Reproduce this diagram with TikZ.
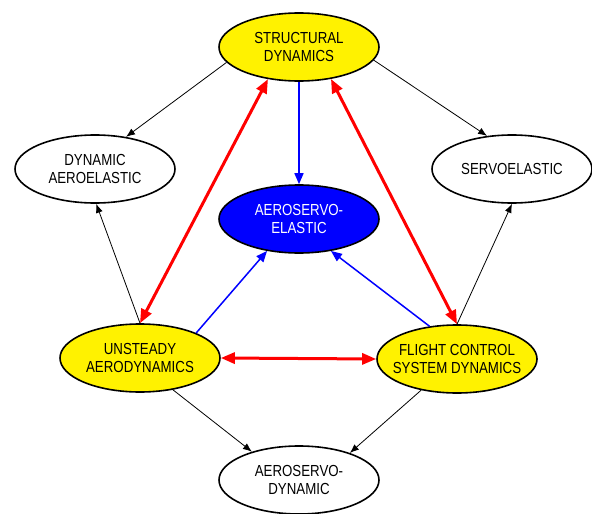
\documentclass[tikz,border=0pt]{standalone}
\usepackage{fontspec}
\setmainfont{Liberation Sans}[FakeStretch=0.83]
\usetikzlibrary{shapes.geometric,positioning,arrows.meta}
\tikzset{
>={Stealth},
every node/.style={font=\fontsize{16}{18.5}\selectfont},
}

\begin{document}
\begin{tikzpicture}
    [on grid,
    block/.style={ellipse, draw, line width=1.6pt, minimum width=160pt, minimum height=68pt,
        align=center, inner xsep=-14pt, inner ysep=-4pt},
    yblock/.style={block, fill=yellow},
    bblock/.style={block, fill=blue, text=white},
    wblock/.style={block, fill=white},
    link/.style={->, line width=0.8pt, >={Latex[length=9pt,width=7pt]}},
    blink/.style={->, blue, line width=1.5pt, >={Triangle[length=11pt,width=9pt]}},
    rlink/.style={<->, red, line width=3pt, >={Triangle[length=14pt,width=11pt]}}
    ]
    \useasboundingbox (0,0) rectangle (592pt,-514pt);

    \node [yblock] (sd) at (299pt,-47pt) {STRUCTURAL\\DYNAMICS};

    \node [bblock] (ae) [below=172pt of sd] {AEROSERVO-\\ELASTIC};

    \node [yblock] (ua) [below left=139pt and 159pt of ae] {UNSTEADY\\AERODYNAMICS};

    \node [yblock] (fc) [below right=140pt and 158pt of ae] {FLIGHT CONTROL\\SYSTEM DYNAMICS};

    \node [wblock] (ad) [below=261pt of ae] {AEROSERVO-\\DYNAMIC};

    \node [wblock] (da) [above left=189pt and 45pt of ua] {DYNAMIC\\AEROELASTIC};

    \node [wblock] (se) [above right=190pt and 55pt of fc] {SERVOELASTIC};

    % thin black links
    \draw[link] (sd.192) -- (da.46);
    \draw[link] (sd.350) -- (se.127);
    \draw[link] (ua.north) -- (da.272);
    \draw[link] (fc.north) -- (se.270);
    \draw[link] (ua.316) -- (ad.149);
    \draw[link] (fc.221) -- (ad.28);

    % blue links
    \draw[blink] (sd.south) -- (ae.north);
    \draw[blink] (ua.24) -- (ae.225);
    \draw[blink] (fc.130) -- (ae.315);

    % red links
    \draw[rlink] (sd.226) -- (ua.north);
    \draw[rlink] (sd.315) -- (fc.north);
    \draw[rlink] (ua.east) -- (fc.west);

\end{tikzpicture}
\end{document}
